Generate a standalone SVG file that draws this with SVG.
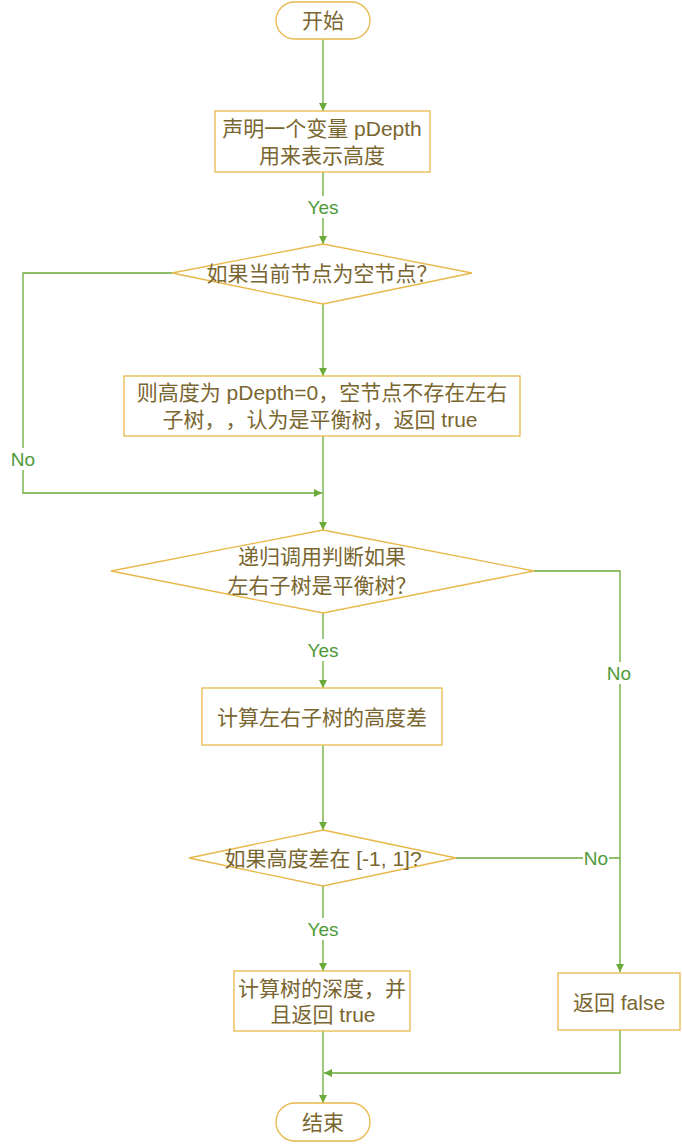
<svg xmlns="http://www.w3.org/2000/svg" width="682" height="1144" viewBox="0 0 682 1144">
<style>
.n{fill:#fff;stroke:#e8b84a;stroke-width:1.3}
.t{font-family:"Liberation Sans","Noto Sans CJK SC",sans-serif;font-size:21px;fill:#7a6630;text-anchor:middle;dominant-baseline:central;text-spacing-trim:space-all}
.c{fill:none;stroke:#6aaa3a;stroke-width:1.3}
.l{font-family:"Liberation Sans",sans-serif;font-size:19px;fill:#4e9a3a;text-anchor:middle;dominant-baseline:central}
.lb{fill:#fff}
</style>
<defs>
<marker id="a" viewBox="0 0 10 10" refX="10" refY="5" markerWidth="8" markerHeight="8" markerUnits="userSpaceOnUse" orient="auto">
<path d="M0,0 L10,5 L0,10 z" fill="#6aaa3a"/>
</marker>
</defs>
<g id="connectors">
<path class="c" d="M323,39 V111" marker-end="url(#a)"/>
<path class="c" d="M323,172 V244" marker-end="url(#a)"/>
<path class="c" d="M323,304 V376" marker-end="url(#a)"/>
<path class="c" d="M172,273 H23 V493 H322" marker-end="url(#a)"/>
<path class="c" d="M323,436 V530" marker-end="url(#a)"/>
<path class="c" d="M323,613 V688" marker-end="url(#a)"/>
<path class="c" d="M323,745 V830" marker-end="url(#a)"/>
<path class="c" d="M534,571 H620 V972" marker-end="url(#a)"/>
<path class="c" d="M456,858 H620"/>
<path class="c" d="M323,886 V971" marker-end="url(#a)"/>
<path class="c" d="M323,1031 V1103" marker-end="url(#a)"/>
<path class="c" d="M620,1030 V1073 H324" marker-end="url(#a)"/>
<rect class="lb" x="305" y="196" width="36" height="22"/>
<text class="l" x="323" y="207">Yes</text>
<rect class="lb" x="10" y="448" width="26" height="22"/>
<text class="l" x="23" y="459">No</text>
<rect class="lb" x="305" y="639" width="36" height="22"/>
<text class="l" x="323" y="650">Yes</text>
<rect class="lb" x="606" y="662" width="26" height="22"/>
<text class="l" x="619" y="673">No</text>
<rect class="lb" x="583" y="847" width="26" height="22"/>
<text class="l" x="596" y="858">No</text>
<rect class="lb" x="305" y="918" width="36" height="22"/>
<text class="l" x="323" y="929">Yes</text>
</g>
<g id="start">
<rect class="n" x="276" y="2" width="94" height="37" rx="18.5"/>
<text class="t" x="323" y="20">开始</text>
</g>
<g id="declare">
<rect class="n" x="215" y="111" width="215" height="61"/>
<text class="t" x="322" y="128">声明一个变量 pDepth</text>
<text class="t" x="322" y="155">用来表示高度</text>
</g>
<g id="isNull">
<polygon class="n" points="323,244 472,273 323,304 172,273"/>
<text class="t" x="322" y="273">如果当前节点为空节点？</text>
</g>
<g id="nullTrue">
<rect class="n" x="124" y="376" width="396" height="60"/>
<text class="t" x="322" y="392">则高度为 pDepth=0，空节点不存在左右</text>
<text class="t" x="320" y="419">子树，，认为是平衡树，返回 true</text>
</g>
<g id="recurse">
<polygon class="n" points="323,530 534,571 323,613 111,571"/>
<text class="t" x="322" y="556">递归调用判断如果</text>
<text class="t" x="322" y="585">左右子树是平衡树？</text>
</g>
<g id="diff">
<rect class="n" x="202" y="688" width="240" height="57"/>
<text class="t" x="322" y="717">计算左右子树的高度差</text>
</g>
<g id="inRange">
<polygon class="n" points="323,830 456,858 323,886 189,858"/>
<text class="t" x="323" y="858">如果高度差在 [-1, 1]?</text>
</g>
<g id="depth">
<rect class="n" x="234" y="971" width="176" height="60"/>
<text class="t" x="322" y="988">计算树的深度，并</text>
<text class="t" x="323" y="1014">且返回 true</text>
</g>
<g id="false">
<rect class="n" x="558" y="973" width="122" height="57"/>
<text class="t" x="619" y="1002">返回 false</text>
</g>
<g id="end">
<rect class="n" x="276" y="1103" width="94" height="38" rx="19"/>
<text class="t" x="323" y="1122">结束</text>
</g>
</svg>
